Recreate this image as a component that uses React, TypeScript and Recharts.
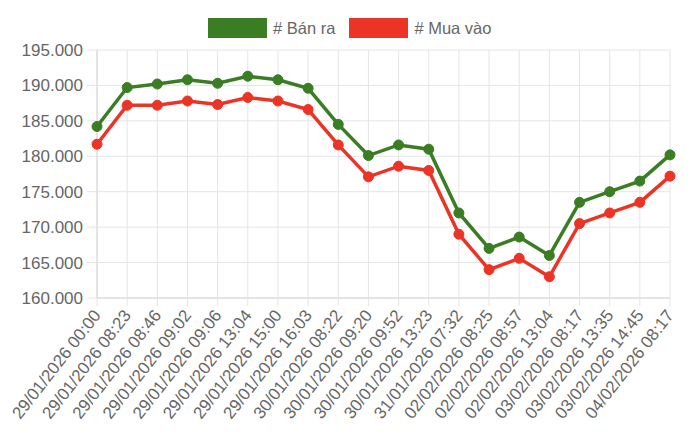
import React from "react";
import { LineChart, Line, XAxis, YAxis, CartesianGrid, Legend } from "recharts";

const labels = [
  "29/01/2026 00:00",
  "29/01/2026 08:23",
  "29/01/2026 08:46",
  "29/01/2026 09:02",
  "29/01/2026 09:06",
  "29/01/2026 13:04",
  "29/01/2026 15:00",
  "29/01/2026 16:03",
  "30/01/2026 08:22",
  "30/01/2026 09:20",
  "30/01/2026 09:52",
  "30/01/2026 13:23",
  "31/01/2026 07:32",
  "02/02/2026 08:25",
  "02/02/2026 08:57",
  "02/02/2026 13:04",
  "03/02/2026 08:17",
  "03/02/2026 13:35",
  "03/02/2026 14:45",
  "04/02/2026 08:17",
];

const banRa = [
  184200, 189700, 190200, 190800, 190300, 191300, 190800, 189600, 184500, 180100,
  181600, 181000, 172000, 167000, 168600, 166000, 173500, 175000, 176500, 180200,
];

const muaVao = [
  181700, 187200, 187200, 187800, 187300, 188300, 187800, 186600, 181600, 177100,
  178600, 178000, 169000, 164000, 165600, 163000, 170500, 172000, 173500, 177200,
];

const yTicks = [160000, 165000, 170000, 175000, 180000, 185000, 190000, 195000];

const GREEN = "#3a7d23";
const RED = "#ec3426";
const FONT = "'Liberation Sans', Arial, Helvetica, sans-serif";
const TEXT = "#666666";
const GRID = "#e5e5e5";

const data = labels.map((l, i) => ({ label: l, ban: banRa[i], mua: muaVao[i] }));

const fmt = (v: number) => v.toLocaleString("de-DE");

const XTick = (props: any) => {
  const { x, y, payload } = props;
  return (
    <g transform={`translate(${x},${y})`}>
      <text
        transform="rotate(-52)"
        textAnchor="end"
        dy="0.35em"
        fill={TEXT}
        fontSize={17}
        fontFamily={FONT}
      >
        {payload.value}
      </text>
    </g>
  );
};

const LegendContent = () => {
  const items = [
    { name: "# Bán ra", color: GREEN },
    { name: "# Mua vào", color: RED },
  ];
  return (
    <div style={{ display: "flex", alignItems: "center", fontFamily: FONT, fontSize: 16.5, color: TEXT, height: 20 }}>
      {items.map((it, i) => (
        <div key={i} style={{ display: "flex", alignItems: "center", marginRight: 14 }}>
          <div style={{ width: 59, height: 20, background: it.color, boxSizing: "border-box", marginRight: 6 }} />
          <span style={{ lineHeight: "20px" }}>{it.name}</span>
        </div>
      ))}
    </div>
  );
};

export default function App() {
  return (
    <div style={{ position: "absolute", left: 0, top: 0, width: 700, height: 436, background: "#fff" }}>
      <LineChart width={700} height={436} data={data} margin={{ top: 30, right: 30, left: 0, bottom: 0 }}>
        <Legend
          verticalAlign="top"
          align="left"
          content={<LegendContent />}
          wrapperStyle={{ top: 18, left: 208, width: "auto", height: 20 }}
        />
        <CartesianGrid stroke={GRID} strokeWidth={1} />
        <XAxis
          dataKey="label"
          interval={0}
          height={138}
          tick={<XTick />}
          tickSize={8}
          tickMargin={6}
          tickLine={{ stroke: GRID }}
          axisLine={{ stroke: "#d6d6d6" }}
        />
        <YAxis
          width={97}
          domain={[160000, 195000]}
          ticks={yTicks}
          tickFormatter={fmt}
          tickSize={10}
          tickMargin={4}
          tickLine={{ stroke: GRID }}
          axisLine={{ stroke: "#d6d6d6" }}
          tick={{ fill: TEXT, fontSize: 17, fontFamily: FONT }}
        />
        <Line
          dataKey="ban"
          name="# Bán ra"
          stroke={GREEN}
          strokeWidth={3.5}
          dot={{ r: 5, fill: GREEN, stroke: GREEN, strokeWidth: 1 }}
          isAnimationActive={false}
        />
        <Line
          dataKey="mua"
          name="# Mua vào"
          stroke={RED}
          strokeWidth={3.5}
          dot={{ r: 5, fill: RED, stroke: RED, strokeWidth: 1 }}
          isAnimationActive={false}
        />
      </LineChart>
    </div>
  );
}
